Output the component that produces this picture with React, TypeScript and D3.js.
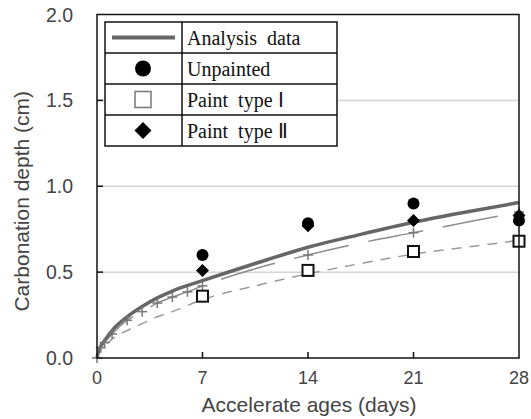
import React from 'react';
import * as d3 from 'd3';

// measured points
const testDays = [7, 14, 21, 28];
const unpainted = [0.6, 0.785, 0.9, 0.8];
const paintTypeI = [0.36, 0.51, 0.62, 0.68];
const paintTypeII = [0.51, 0.77, 0.8, 0.83];

// analysis curves
const analysisDays = [0, 0.1, 0.25, 0.5, 1, 2, 3, 4, 5, 7, 10.5, 14, 17.5, 21, 24.5, 28];
const analysisSolid = [0, 0.04, 0.07, 0.1, 0.16, 0.24, 0.3, 0.35, 0.39, 0.45, 0.55, 0.645, 0.72, 0.79, 0.85, 0.905];

const plusDays = [0, 0.25, 0.5, 1, 2, 3, 4, 5, 6, 7, 10.5, 14, 17.5, 21, 24.5, 28];
const analysisPlus = [0, 0.06, 0.09, 0.14, 0.22, 0.27, 0.32, 0.355, 0.385, 0.42, 0.52, 0.6, 0.67, 0.73, 0.79, 0.85];
const plusMarkerDays = [0, 0.25, 0.5, 1, 2, 3, 4, 5, 6, 7, 14, 21, 28];

const shortDashDays = [0, 0.25, 0.5, 1, 2, 3, 4, 5, 7, 10.5, 14, 17.5, 21, 24.5, 28];
const analysisShort = [0, 0.05, 0.07, 0.11, 0.16, 0.2, 0.24, 0.27, 0.34, 0.42, 0.49, 0.55, 0.605, 0.645, 0.685];

const xTicks = [0, 7, 14, 21, 28];
const yTicks = [0, 0.5, 1.0, 1.5, 2.0];
const legendLabels = ['Analysis  data', 'Unpainted', 'Paint  type Ⅰ', 'Paint  type Ⅱ'];

const W = 531;
const H = 419;

export default function App() {
  const x = d3.scaleLinear().domain([0, 28]).range([97, 519]);
  const y = d3.scaleLinear().domain([0, 2]).range([358, 14.5]);

  const line = (days: number[], vals: number[]) =>
    d3.line<number>()
      .x((_, i) => x(days[i]))
      .y(d => y(d))
      .curve(d3.curveMonotoneX)(vals) as string;

  const plusVal = (d: number) => analysisPlus[plusDays.indexOf(d)];

  const diamond = (cx: number, cy: number, r: number) =>
    `M${cx},${cy - r}L${cx + r},${cy}L${cx},${cy + r}L${cx - r},${cy}Z`;

  const sans = '"Liberation Sans", Arial, sans-serif';
  const serif = '"Liberation Serif", "Times New Roman", serif';
  const txt = '#444';

  // legend geometry
  const lgX0 = 105, lgX1 = 337, lgDiv = 182, lgTop = 22, rowH = 31;
  const lgCx = 143;

  return (
    <svg width={W} height={H} style={{ position: 'absolute', left: 0, top: 0 }}>
      <rect width={W} height={H} fill="#fff" />

      {/* gridlines */}
      {yTicks.filter(t => t > 0 && t < 2).map(t => (
        <line key={t} x1={x(0)} x2={x(28)} y1={y(t)} y2={y(t)} stroke="#d4d4d4" strokeWidth={1.5} />
      ))}

      {/* analysis curves */}
      <path d={line(shortDashDays, analysisShort)} fill="none" stroke="#9a9a9a" strokeWidth={1.5} strokeDasharray="10,8" />
      <path d={line(plusDays, analysisPlus)} fill="none" stroke="#8c8c8c" strokeWidth={1.5} strokeDasharray="56,20" />
      <path d={line(analysisDays, analysisSolid)} fill="none" stroke="#666" strokeWidth={3.5} />

      {plusMarkerDays.map(d => (
        <g key={d} stroke="#777" strokeWidth={1.5}>
          <line x1={x(d) - 5} x2={x(d) + 5} y1={y(plusVal(d))} y2={y(plusVal(d))} />
          <line x1={x(d)} x2={x(d)} y1={y(plusVal(d)) - 5} y2={y(plusVal(d)) + 5} />
        </g>
      ))}

      {/* measured points */}
      {testDays.map((d, i) => (
        <rect key={'s' + d} x={x(d) - 5.5} y={y(paintTypeI[i]) - 5.5} width={11} height={11}
          fill="#fff" stroke="#111" strokeWidth={2} />
      ))}
      {testDays.map((d, i) => (
        <path key={'d' + d} d={diamond(x(d), y(paintTypeII[i]), 6.5)} fill="#000" />
      ))}
      {testDays.map((d, i) => (
        <circle key={'c' + d} cx={x(d)} cy={y(unpainted[i])} r={6} fill="#000" />
      ))}

      {/* frame */}
      <rect x={x(0)} y={y(2)} width={x(28) - x(0)} height={y(0) - y(2)} fill="none" stroke="#111" strokeWidth={1.5} />

      {/* ticks */}
      {yTicks.filter(t => t > 0 && t < 2).map(t => (
        <line key={'yt' + t} x1={x(0)} x2={x(0) + 6} y1={y(t)} y2={y(t)} stroke="#111" strokeWidth={1.5} />
      ))}
      {xTicks.filter(t => t > 0 && t < 28).map(t => (
        <line key={'xt' + t} x1={x(t)} x2={x(t)} y1={y(0)} y2={y(0) - 6} stroke="#111" strokeWidth={1.5} />
      ))}

      {/* tick labels */}
      {yTicks.map(t => (
        <text key={'yl' + t} x={73} y={y(t) + 7} textAnchor="end" fontFamily={sans} fontSize={19.5} fill={txt}>
          {t.toFixed(1)}
        </text>
      ))}
      {xTicks.map(t => (
        <text key={'xl' + t} x={x(t)} y={384} textAnchor="middle" fontFamily={sans} fontSize={18} fill={txt}>
          {t}
        </text>
      ))}

      {/* axis titles */}
      <text x={309} y={412} textAnchor="middle" fontFamily={sans} fontSize={21} fill={txt}>
        Accelerate ages (days)
      </text>
      <text transform={`translate(29,${y(1) + 15}) rotate(-90)`} textAnchor="middle" fontFamily={sans} fontSize={21} fill={txt}>
        Carbonation depth (cm)
      </text>

      {/* legend */}
      <rect x={lgX0} y={lgTop} width={lgX1 - lgX0} height={rowH * 4} fill="#fff" stroke="#111" strokeWidth={1.5} />
      {[1, 2, 3].map(i => (
        <line key={'r' + i} x1={lgX0} x2={lgX1} y1={lgTop + rowH * i} y2={lgTop + rowH * i} stroke="#111" strokeWidth={1.5} />
      ))}
      <line x1={lgDiv} x2={lgDiv} y1={lgTop} y2={lgTop + rowH * 4} stroke="#111" strokeWidth={1.5} />
      <line x1={112} x2={175} y1={lgTop + rowH * 0.5} y2={lgTop + rowH * 0.5} stroke="#666" strokeWidth={4} />
      <circle cx={lgCx} cy={lgTop + rowH * 1.5} r={8} fill="#000" />
      <rect x={lgCx - 8} y={lgTop + rowH * 2.5 - 8} width={16} height={16} fill="#fff" stroke="#777" strokeWidth={1.5} />
      <path d={diamond(lgCx, lgTop + rowH * 3.5, 8.5)} fill="#000" />
      {legendLabels.map((l, i) => (
        <text key={l} x={187} y={lgTop + rowH * i + 23} fontFamily={serif} fontSize={20} fill="#111" style={{ whiteSpace: 'pre' }}>
          {l}
        </text>
      ))}
    </svg>
  );
}
